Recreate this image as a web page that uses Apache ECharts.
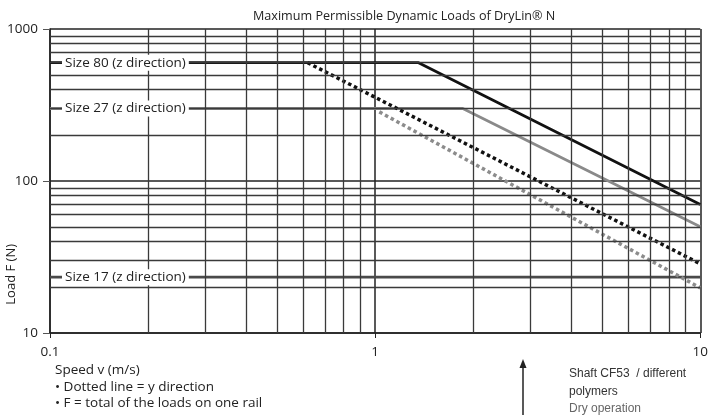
<!DOCTYPE html>
<html>
<head>
<meta charset="utf-8">
<script src="https://cdn.jsdelivr.net/npm/echarts@6/dist/echarts.min.js"></script>
<style>
  html, body { margin: 0; padding: 0; background: #fff; }
  #chart { width: 711px; height: 415px; }
</style>
</head>
<body>
<div id="chart"></div>
<script>
// curves: [speed m/s, load N]
var size80z = [[0.1, 600], [1.36, 600], [10, 70]];
var size27z = [[0.1, 300], [1.86, 300], [10, 50]];
var size17z = [[0.1, 23.3], [10, 23.3]];
var size80y = [[0.62, 600], [10, 28.5]];
var size27y = [[1.03, 285], [10, 19.8]];

var curveNames = ['Size 80 (z direction)', 'Size 27 (z direction)', 'Size 17 (z direction)'];

// minor grid of the log paper
var xGrid = [0.2, 0.3, 0.4, 0.5, 0.6, 0.7, 0.8, 0.9, 2, 3, 4, 5, 6, 7, 8, 9];
var yGrid = [20, 30, 40, 50, 60, 70, 80, 90, 200, 300, 400, 500, 600, 700, 800, 900];

var font = '"Open Sans", "DejaVu Sans", sans-serif';

var myChart = echarts.init(document.getElementById('chart'));

function sizeLabel(text, y) {
  return {
    symbol: 'rect',
    symbolSize: 0,
    silent: true,
    data: [{ coord: [0.1, y] }],
    label: {
      show: true,
      position: 'right',
      distance: 12,
      formatter: text,
      color: '#222',
      fontFamily: font,
      fontSize: 13.5,
      backgroundColor: '#fff',
      padding: [1, 3]
    }
  };
}

var gridLines = [];
xGrid.forEach(function (v) { gridLines.push({ xAxis: v }); });
yGrid.forEach(function (v) { gridLines.push({ yAxis: v }); });

var option = {
  backgroundColor: '#fff',
  animation: false,
  title: {
    text: 'Maximum Permissible Dynamic Loads of DryLin® N',
    left: 248,
    top: 5,
    textStyle: { fontFamily: font, fontSize: 12.6, fontWeight: 'normal', color: '#222' }
  },
  grid: { left: 50, right: 6, top: 29, bottom: 82 },
  xAxis: {
    type: 'log',
    logBase: 10,
    min: 0.1,
    max: 10,
    axisLine: { show: true, lineStyle: { color: '#222', width: 1.5 } },
    axisTick: { show: true, length: 5, lineStyle: { color: '#222' } },
    axisLabel: { margin: 12, color: '#222', fontFamily: font, fontSize: 13.5, formatter: function (v) { return String(v); } },
    splitLine: { show: true, lineStyle: { color: '#222', width: 1.5 } },
    minorTick: { show: false }
  },
  yAxis: {
    type: 'log',
    logBase: 10,
    min: 10,
    max: 1000,
    axisLine: { show: true, lineStyle: { color: '#222', width: 1.5 } },
    axisTick: { show: true, length: 7, lineStyle: { color: '#555' } },
    axisLabel: { margin: 12, color: '#222', fontFamily: font, fontSize: 13.5, formatter: function (v) { return String(v); } },
    splitLine: { show: true, lineStyle: { color: '#222', width: 1.5 } }
  },
  series: [
    {
      // log paper grid
      type: 'line',
      data: [],
      z: 1,
      silent: true,
      markLine: {
        silent: true,
        symbol: 'none',
        label: { show: false },
        lineStyle: { color: '#3a3a3a', width: 1.3, type: 'solid' },
        data: gridLines
      }
    },
    {
      name: curveNames[0],
      type: 'line',
      data: size80z,
      symbol: 'none',
      z: 3,
      lineStyle: { color: '#111', width: 2.8 },
      markPoint: sizeLabel(curveNames[0], 600)
    },
    {
      name: curveNames[1],
      type: 'line',
      data: size27z,
      symbol: 'none',
      z: 3,
      lineStyle: { color: '#8a8a8a', width: 2.8 },
      markPoint: sizeLabel(curveNames[1], 300)
    },
    {
      name: curveNames[2],
      type: 'line',
      data: size17z,
      symbol: 'none',
      z: 3,
      lineStyle: { color: '#4a4a4a', width: 2.8 },
      markPoint: sizeLabel(curveNames[2], 23.3)
    },
    {
      name: 'Size 80 (y direction)',
      type: 'line',
      data: size80y,
      symbol: 'none',
      z: 3,
      lineStyle: { color: '#111', width: 3.5, type: [3.5, 3], cap: 'butt' }
    },
    {
      name: 'Size 27 (y direction)',
      type: 'line',
      data: size27y,
      symbol: 'none',
      z: 3,
      lineStyle: { color: '#8c8c8c', width: 3.5, type: [3.5, 3], cap: 'butt' }
    }
  ],
  graphic: [
    {
      type: 'text', left: 5, top: 244, rotation: Math.PI / 2,
      style: { text: 'Load F (N)', fill: '#222', font: '13px ' + font }
    },
    {
      type: 'text', left: 55, top: 363,
      style: { text: 'Speed v (m/s)', fill: '#222', font: '13.5px ' + font }
    },
    {
      type: 'text', left: 55, top: 380,
      style: { text: '• Dotted line = y direction', fill: '#222', font: '13.5px ' + font }
    },
    {
      type: 'text', left: 55, top: 396,
      style: { text: '• F = total of the loads on one rail', fill: '#222', font: '13.5px ' + font }
    },
    {
      type: 'line', shape: { x1: 523, y1: 366, x2: 523, y2: 415 },
      style: { stroke: '#222', lineWidth: 1.5 }
    },
    {
      type: 'polygon', shape: { points: [[523, 359], [519.5, 368], [526.5, 368]] },
      style: { fill: '#222' }
    },
    {
      type: 'text', left: 569, top: 368,
      style: { text: 'Shaft CF53  / different', fill: '#333', font: '500 12px "Liberation Sans", Arial, sans-serif' }
    },
    {
      type: 'text', left: 569, top: 386,
      style: { text: 'polymers', fill: '#333', font: '500 12px "Liberation Sans", Arial, sans-serif' }
    },
    {
      type: 'text', left: 569, top: 403,
      style: { text: 'Dry operation', fill: '#666', font: '12px "Liberation Sans", Arial, sans-serif' }
    }
  ]
};

myChart.setOption(option);
</script>
</body>
</html>
